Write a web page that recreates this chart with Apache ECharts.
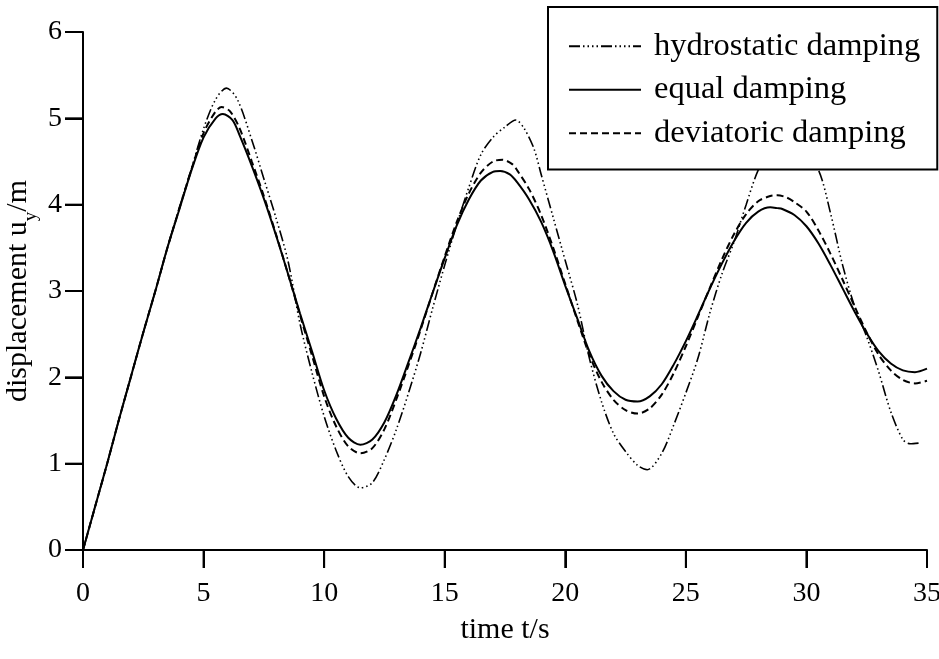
<!DOCTYPE html>
<html>
<head>
<meta charset="utf-8">
<script src="https://cdn.jsdelivr.net/npm/echarts@6/dist/echarts.min.js"></script>
<style>
  html, body { margin: 0; padding: 0; background: #fff; }
  #chart { width: 939px; height: 659px; }
</style>
</head>
<body>
<div id="chart"></div>
<script>
// values (time in s, displacement in m)
var tHydro = [0, 0.5, 1, 1.5, 2, 2.5, 3, 3.5, 4, 4.5, 5, 5.5, 5.95, 6.4, 7, 7.5, 8, 8.5, 9, 9.5, 10, 10.5, 11, 11.5, 12, 12.5, 13, 13.5, 14, 14.5, 15, 15.5, 16, 16.5, 17, 17.5, 17.95, 18.3, 18.7, 19, 19.5, 20, 20.5, 21, 21.5, 22, 22.5, 23, 23.4, 24, 24.5, 25, 25.5, 26, 26.5, 27, 27.5, 28, 28.5, 29.2, 29.8, 30.5, 31, 31.5, 32, 32.5, 33, 33.5, 34, 34.3, 34.7];
var uHydro = [0, 0.5, 1.0, 1.52, 2.02, 2.52, 3.0, 3.5, 3.97, 4.42, 4.88, 5.22, 5.35, 5.22, 4.75, 4.3, 3.85, 3.35, 2.62, 2.05, 1.55, 1.15, 0.85, 0.72, 0.78, 1.05, 1.4, 1.82, 2.28, 2.8, 3.3, 3.77, 4.2, 4.58, 4.78, 4.9, 4.98, 4.88, 4.65, 4.35, 3.85, 3.35, 2.85, 2.22, 1.72, 1.35, 1.14, 0.98, 0.93, 1.12, 1.45, 1.82, 2.22, 2.75, 3.2, 3.57, 4.0, 4.4, 4.62, 4.72, 4.65, 4.4, 3.9, 3.3, 2.82, 2.47, 2.06, 1.6, 1.28, 1.23, 1.24];

var tEqual = [0, 0.5, 1, 1.5, 2, 2.5, 3, 3.5, 4, 4.5, 5, 5.5, 5.8, 6.2, 6.5, 7, 7.5, 8, 8.5, 9, 9.5, 10, 10.5, 11, 11.5, 12, 12.5, 13, 13.5, 14, 14.5, 15, 15.5, 16, 16.5, 17, 17.3, 17.7, 18, 18.5, 19, 19.5, 20, 20.5, 21, 21.5, 22, 22.5, 23, 23.5, 24, 24.5, 25, 25.5, 26, 26.5, 27, 27.5, 28, 28.5, 28.8, 29, 29.5, 30, 30.5, 31, 31.5, 32, 32.5, 33, 33.5, 34, 34.5, 35];
var uEqual = [0, 0.5, 1.0, 1.52, 2.02, 2.52, 3.0, 3.5, 3.95, 4.4, 4.78, 5.0, 5.05, 4.98, 4.8, 4.45, 4.07, 3.65, 3.2, 2.74, 2.3, 1.85, 1.52, 1.3, 1.22, 1.28, 1.48, 1.8, 2.18, 2.57, 2.98, 3.38, 3.76, 4.06, 4.28, 4.38, 4.39, 4.35, 4.26, 4.06, 3.8, 3.46, 3.06, 2.68, 2.3, 2.02, 1.84, 1.74, 1.72, 1.78, 1.92, 2.15, 2.42, 2.72, 3.03, 3.32, 3.58, 3.79, 3.92, 3.97, 3.96, 3.95, 3.88, 3.75, 3.55, 3.3, 3.03, 2.76, 2.51, 2.3, 2.16, 2.08, 2.06, 2.1];

var tDev = [0, 0.5, 1, 1.5, 2, 2.5, 3, 3.5, 4, 4.5, 5, 5.5, 5.75, 6.1, 6.5, 7, 7.5, 8, 8.5, 9, 9.5, 10, 10.5, 11, 11.5, 12, 12.5, 13, 13.5, 14, 14.5, 15, 15.5, 16, 16.5, 17, 17.4, 17.8, 18, 18.5, 19, 19.5, 20, 20.5, 21, 21.5, 22, 22.5, 23, 23.5, 24, 24.5, 25, 25.5, 26, 26.5, 27, 27.5, 28, 28.5, 28.8, 29.2, 29.5, 30, 30.5, 31, 31.5, 32, 32.5, 33, 33.5, 34, 34.5, 35];
var uDev = [0, 0.5, 1.0, 1.52, 2.02, 2.52, 3.0, 3.5, 3.96, 4.41, 4.83, 5.08, 5.13, 5.08, 4.88, 4.5, 4.1, 3.66, 3.2, 2.72, 2.25, 1.78, 1.43, 1.2, 1.12, 1.18, 1.4, 1.75, 2.14, 2.55, 2.98, 3.4, 3.8, 4.13, 4.37, 4.5, 4.52, 4.47, 4.4, 4.18, 3.88, 3.5, 3.08, 2.66, 2.26, 1.95, 1.74, 1.62, 1.58, 1.64, 1.8, 2.05, 2.36, 2.7, 3.04, 3.37, 3.66, 3.89, 4.04, 4.1, 4.11, 4.08, 4.03, 3.92, 3.7, 3.43, 3.13, 2.82, 2.52, 2.26, 2.08, 1.97, 1.93, 1.96];

var xTicks = [0, 5, 10, 15, 20, 25, 30, 35];
var yTicks = [0, 1, 2, 3, 4, 5, 6];

function pairs(t, u) {
  return t.map(function (v, i) { return [v, u[i]]; });
}

var serif = "'Liberation Serif', 'Times New Roman', serif";
var tickLen = 18;

var chart = echarts.init(document.getElementById('chart'));

var option = {
  animation: false,
  grid: { left: 83, right: 12, top: 32, bottom: 109, outerBoundsMode: 'none' },
  legend: {
    orient: 'vertical',
    left: 548,
    top: 7,
    padding: [21, 17, 18, 20],
    itemWidth: 72,
    itemHeight: 14,
    itemGap: 7,
    backgroundColor: '#fff',
    borderColor: '#000',
    borderWidth: 2,
    borderRadius: 0,
    // hide the point marker, keep only the line sample
    itemStyle: { opacity: 0, color: 'rgba(0,0,0,0)', borderWidth: 0 },
    textStyle: { color: '#000', fontFamily: serif, fontSize: 32.5, lineHeight: 36.5, padding: [0, 0, 0, 8] },
    data: ['hydrostatic damping', 'equal damping', 'deviatoric damping']
  },
  xAxis: {
    type: 'value',
    min: xTicks[0],
    max: xTicks[xTicks.length - 1],
    interval: 5,
    splitLine: { show: false },
    axisLine: { show: true, lineStyle: { color: '#000', width: 2 } },
    axisTick: { show: true, length: tickLen, lineStyle: { color: '#000', width: 2 } },
    axisLabel: { color: '#000', fontFamily: serif, fontSize: 28, margin: 30 }
  },
  yAxis: {
    type: 'value',
    min: yTicks[0],
    max: yTicks[yTicks.length - 1],
    interval: 1,
    splitLine: { show: false },
    axisLine: { show: true, lineStyle: { color: '#000', width: 2 } },
    axisTick: { show: true, length: tickLen, lineStyle: { color: '#000', width: 2 } },
    axisLabel: { color: '#000', fontFamily: serif, fontSize: 28, margin: 21 }
  },
  series: [
    {
      name: 'hydrostatic damping',
      type: 'line',
      data: pairs(tHydro, uHydro),
      showSymbol: false,
      smooth: 0.3,
      color: '#000',
      lineStyle: { color: '#000', width: 1.6, type: [11, 3, 1.5, 3, 1.5, 3, 1.5, 3, 1.5, 3] }
    },
    {
      name: 'equal damping',
      type: 'line',
      data: pairs(tEqual, uEqual),
      showSymbol: false,
      smooth: 0.3,
      color: '#000',
      lineStyle: { color: '#000', width: 2, type: 'solid' }
    },
    {
      name: 'deviatoric damping',
      type: 'line',
      data: pairs(tDev, uDev),
      showSymbol: false,
      smooth: 0.3,
      color: '#000',
      lineStyle: { color: '#000', width: 2, type: [7, 4] }
    }
  ]
};

chart.setOption(option);

// axis titles and outward ticks, placed through the axes' own scales
var origin = chart.convertToPixel({ gridIndex: 0 }, [xTicks[0], yTicks[0]]);
var xMid = chart.convertToPixel({ gridIndex: 0 }, [(xTicks[0] + xTicks[xTicks.length - 1]) / 2, yTicks[0]]);
var yMid = chart.convertToPixel({ gridIndex: 0 }, [xTicks[0], (yTicks[0] + yTicks[yTicks.length - 1]) / 2]);

var extras = [];
xTicks.forEach(function (v) {
  var p = chart.convertToPixel({ gridIndex: 0 }, [v, yTicks[0]]);
  extras.push({
    type: 'line', silent: true, z: 10,
    shape: { x1: p[0], y1: p[1], x2: p[0], y2: p[1] + tickLen },
    style: { stroke: '#000', lineWidth: 2 }
  });
});
yTicks.forEach(function (v) {
  var p = chart.convertToPixel({ gridIndex: 0 }, [xTicks[0], v]);
  extras.push({
    type: 'line', silent: true, z: 10,
    shape: { x1: p[0] - tickLen, y1: p[1], x2: p[0], y2: p[1] },
    style: { stroke: '#000', lineWidth: 2 }
  });
});
extras.push({
  type: 'text', silent: true,
  x: xMid[0], y: origin[1] + 80,
  style: { text: 'time t/s', fill: '#000', fontFamily: serif, fontSize: 30, align: 'center', verticalAlign: 'middle' }
});
extras.push({
  type: 'text', silent: true,
  x: origin[0] - 61, y: yMid[1],
  rotation: Math.PI / 2,
  style: {
    text: '{n|displacement u}{s|y}{n|/m}',
    fill: '#000', fontFamily: serif, fontSize: 30,
    align: 'center', verticalAlign: 'middle',
    rich: {
      n: { fontFamily: serif, fontSize: 30, fill: '#000', padding: [0, 0, 8, 0], verticalAlign: 'bottom' },
      s: { fontFamily: serif, fontSize: 19, fill: '#000', verticalAlign: 'bottom' }
    }
  }
});
chart.setOption({ graphic: extras });
</script>
</body>
</html>
